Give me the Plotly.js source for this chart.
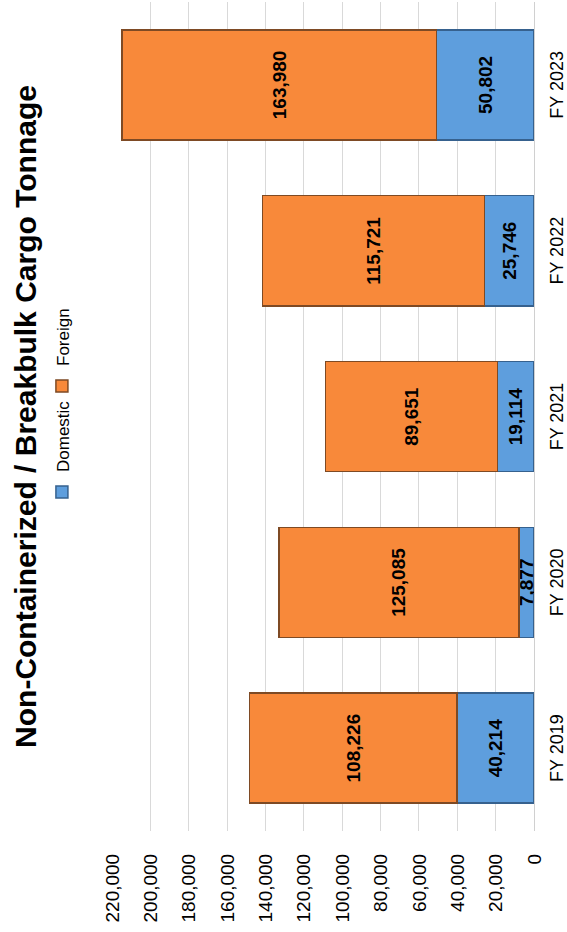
<!DOCTYPE html>
<html>
<head>
<meta charset="utf-8">
<script src="https://cdn.plot.ly/plotly-3.0.1.min.js"></script>
<style>
  html, body { margin: 0; padding: 0; width: 567px; height: 932px; overflow: hidden; background: #ffffff; }
  #wrap { position: absolute; left: 0; top: 0; width: 950px; height: 567px;
          transform-origin: 0 0; transform: translate(0px, 932px) rotate(-90deg); }
  #chart { width: 950px; height: 567px; }
</style>
</head>
<body>
<div id="wrap"><div id="chart"></div></div>
<script>
const categories = ["FY 2019", "FY 2020", "FY 2021", "FY 2022", "FY 2023"];
const domestic = [40214, 7877, 19114, 25746, 50802];
const foreign = [108226, 125085, 89651, 115721, 163980];
const seriesNames = ["Domestic", "Foreign"];
const titleText = "Non-Containerized / Breakbulk Cargo Tonnage";

const fontFam = "Liberation Sans, Arial, sans-serif";

const traces = [
  {
    type: "bar", name: seriesNames[0], x: categories, y: domestic,
    marker: { color: "#5E9EDD", line: { color: "#36618E", width: 1.5 } },
    text: domestic.map(v => v.toLocaleString("en-US")),
    textposition: "inside", insidetextanchor: "middle", textangle: 0,
    textfont: { family: fontFam, size: 19, color: "#000000", weight: "bold" },
    hoverinfo: "skip"
  },
  {
    type: "bar", name: seriesNames[1], x: categories, y: foreign,
    marker: { color: "#F8893A", line: { color: "#7E4A24", width: 1.5 } },
    text: foreign.map(v => v.toLocaleString("en-US")),
    textposition: "inside", insidetextanchor: "middle", textangle: 0,
    textfont: { family: fontFam, size: 19, color: "#000000", weight: "bold" },
    hoverinfo: "skip"
  }
];

const layout = {
  width: 950, height: 567,
  margin: { l: 101, r: 20, t: 112, b: 33 },
  paper_bgcolor: "#ffffff", plot_bgcolor: "#ffffff",
  barmode: "stack", bargap: 0.336,
  uniformtext: { mode: "show", minsize: 19 },
  showlegend: true,
  font: { family: fontFam, color: "#000000" },
  title: {
    text: "<b>" + titleText + "</b>",
    font: { family: fontFam, size: 30, color: "#000000" },
    x: 0.5, xref: "paper", xanchor: "center",
    y: 0.955, yref: "container", yanchor: "middle"
  },
  legend: {
    orientation: "h", x: 0.3848, xref: "paper", xanchor: "left",
    y: 0.89, yref: "container", yanchor: "middle",
    font: { family: fontFam, size: 17, color: "#000000" },
    itemwidth: 30, tracegroupgap: 0, traceorder: "normal",
    entrywidth: 61, entrywidthmode: "pixels"
  },
  xaxis: {
    type: "category", range: [-0.5, 4.5],
    showgrid: false, showline: true, linecolor: "#d0d0d0", linewidth: 1,
    ticks: "outside", ticklen: 6, tickcolor: "rgba(0,0,0,0)",
    tickfont: { family: fontFam, size: 18, color: "#000000" },
    fixedrange: true
  },
  yaxis: {
    range: [0, 220000], dtick: 20000, tick0: 0, tickformat: ",",
    showgrid: true, gridcolor: "#d9d9d9", gridwidth: 1,
    zeroline: false, showline: false,
    ticks: "outside", ticklen: 18, tickcolor: "rgba(0,0,0,0)",
    tickfont: { family: fontFam, size: 19, color: "#000000" },
    fixedrange: true
  }
};

Plotly.newPlot("chart", traces, layout, { displayModeBar: false, staticPlot: true });
</script>
</body>
</html>
